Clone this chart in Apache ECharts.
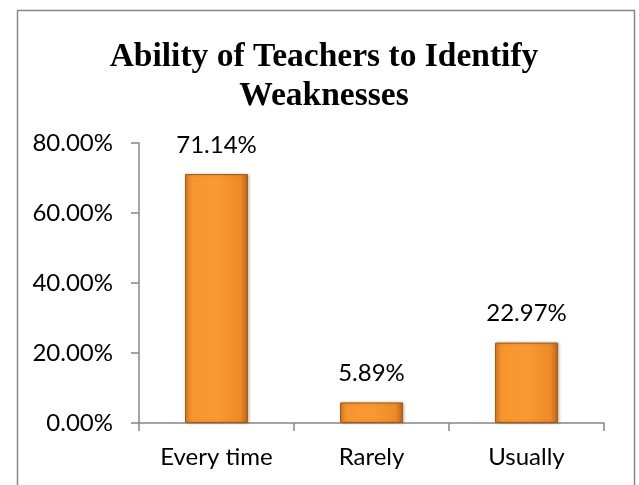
<!DOCTYPE html>
<html>
<head>
<meta charset="utf-8">
<script src="https://cdn.jsdelivr.net/npm/echarts@6/dist/echarts.min.js"></script>
<style>
  html, body { margin: 0; padding: 0; background: #fff; }
  #chart { width: 639px; height: 485px; }
</style>
</head>
<body>
<div id="chart"></div>
<script>
const categories = ['Every time', 'Rarely', 'Usually']
const shares = [71.14, 5.89, 22.97]
const yTicks = [0, 20, 40, 60, 80]

const labelFont = 'Lato, "Open Sans", sans-serif'
const axisGray = '#868686'

const dom = echarts.init(document.getElementById('chart'))
const option = {
  backgroundColor: '#fff',
  animation: false,
  title: {
    text: 'Ability of Teachers to Identify\nWeaknesses',
    left: 319,
    textAlign: 'center',
    top: 33,
    textStyle: {
      fontFamily: '"Liberation Serif", "Times New Roman", serif',
      fontWeight: 'bold',
      fontSize: 33.5,
      lineHeight: 39,
      color: '#000'
    }
  },
  graphic: [
    {
      type: 'rect',
      shape: { x: 17.5, y: 10.5, width: 617, height: 490 },
      style: { fill: 'none', stroke: axisGray, lineWidth: 1.5 },
      silent: true
    }
  ],
  grid: {
    left: 139,
    right: 35,
    top: 143,
    bottom: 62
  },
  xAxis: {
    type: 'category',
    data: categories,
    axisLine: { lineStyle: { color: axisGray, width: 1.5 } },
    axisTick: { show: true, length: 8, lineStyle: { color: axisGray, width: 1.5 } },
    axisLabel: {
      margin: 22,
      fontFamily: labelFont,
      fontSize: 24,
      color: '#000'
    }
  },
  yAxis: {
    type: 'value',
    min: yTicks[0],
    max: yTicks[yTicks.length - 1],
    interval: 20,
    splitLine: { show: false },
    axisLine: { show: true, lineStyle: { color: axisGray, width: 1.5 } },
    axisTick: { show: true, length: 8, lineStyle: { color: axisGray, width: 1.5 } },
    axisLabel: {
      margin: 26,
      fontFamily: labelFont,
      fontSize: 24,
      color: '#000',
      formatter: v => v.toFixed(2) + '%'
    }
  },
  series: [
    {
      type: 'bar',
      data: shares,
      barWidth: 63,
      itemStyle: {
        color: {
          type: 'linear', x: 0, y: 0, x2: 1, y2: 0,
          colorStops: [
            { offset: 0, color: '#E2801F' },
            { offset: 0.12, color: '#F7952E' },
            { offset: 0.5, color: '#FA9A34' },
            { offset: 0.88, color: '#EE8A27' },
            { offset: 1, color: '#B8661A' }
          ]
        },
        borderColor: '#A85A14',
        borderWidth: 1,
        shadowColor: 'rgba(0,0,0,0.25)',
        shadowBlur: 3,
        shadowOffsetX: 1
      },
      label: {
        show: true,
        position: 'top',
        distance: 17,
        fontFamily: labelFont,
        fontSize: 24,
        color: '#000',
        formatter: p => p.value.toFixed(2) + '%'
      }
    }
  ]
}
dom.setOption(option)
window.addEventListener('resize', () => dom.resize())
</script>
</body>
</html>
